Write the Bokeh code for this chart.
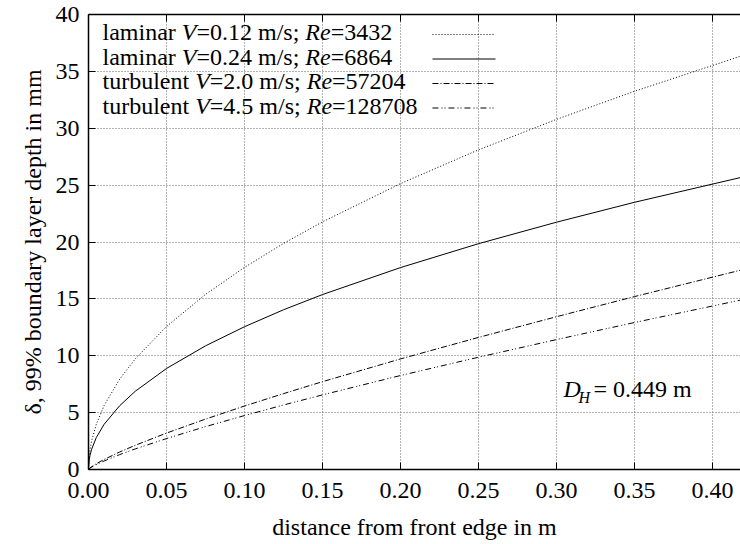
import numpy as np
from bokeh.plotting import figure
from bokeh.models import Range1d, LinearAxis, FixedTicker, PrintfTickFormatter
from bokeh.core.properties import value
from bokeh.embed import file_html
from bokeh.resources import INLINE

# ---------------- data ----------------
x_m = [0, 0.0005, 0.001, 0.002, 0.005, 0.01, 0.02, 0.03, 0.05, 0.075, 0.1,
       0.125, 0.15, 0.2, 0.25, 0.3, 0.35, 0.42]
laminar_012 = [0, 1.26, 1.78, 2.51, 3.97, 5.62, 7.95, 9.73, 12.57, 15.39, 17.77,
               19.87, 21.77, 25.13, 28.10, 30.78, 33.25, 36.42]
laminar_024 = [0, 0.89, 1.26, 1.78, 2.81, 3.97, 5.61, 6.88, 8.88, 10.87, 12.55,
               14.04, 15.38, 17.75, 19.85, 21.74, 23.49, 25.73]
turbulent_20 = [0, 0.08, 0.14, 0.24, 0.51, 0.88, 1.54, 2.13, 3.20, 4.43, 5.58,
                6.67, 7.72, 9.72, 11.61, 13.43, 15.20, 17.59]
turbulent_45 = [0, 0.07, 0.12, 0.21, 0.43, 0.75, 1.31, 1.81, 2.72, 3.77, 4.74,
                5.67, 6.56, 8.26, 9.87, 11.42, 12.92, 14.95]

series_names = [("laminar ", "0.12", "3432"),
                ("laminar ", "0.24", "6864"),
                ("turbulent ", "2.0", "57204"),
                ("turbulent ", "4.5", "128708")]
series_values = [laminar_012, laminar_024, turbulent_20, turbulent_45]
series_dash = ["1 2", "solid", "6 2 1 2", "6 3 1 2 1 3"]

x_ticks = [0.0, 0.05, 0.10, 0.15, 0.20, 0.25, 0.30, 0.35, 0.40]
y_ticks = [0, 5, 10, 15, 20, 25, 30, 35, 40]

x_label = "distance from front edge in m"
y_label = "δ, 99% boundary layer depth in mm"

# ---------------- layout ----------------
W, H = 740, 544
FL, FT, FR, FB = 88, 14, 0, 75
FW, FH = W - FL - FR, H - FT - FB
XMAX, YMAX = 0.418, 40.0
FONT = "Liberation Serif"
FS = 24


def px2x(px):
    return (px - FL) / FW * XMAX


def px2y(py):
    return (FT + FH - py) / FH * YMAX


# Times metrics (per 1000 em)
ROMAN = {" ": 250, ".": 250, "/": 278, ";": 278, "=": 564, "a": 444, "b": 500,
         "e": 444, "i": 278, "l": 278, "m": 778, "n": 500, "r": 333, "s": 389,
         "t": 278, "u": 500}
for d in "0123456789":
    ROMAN[d] = 500
ITALIC = {"V": 611, "R": 611, "e": 444}


def tw(s, table, size=FS):
    return sum(table[c] for c in s) * size / 1000.0


p = figure(width=W, height=H, output_backend="svg", toolbar_location=None,
           x_range=Range1d(0, XMAX), y_range=Range1d(0, YMAX),
           min_border_left=FL, min_border_right=FR, min_border_top=FT,
           min_border_bottom=FB, background_fill_color="white",
           border_fill_color="white", outline_line_color=None)

# axes
for ax in (p.xaxis[0], p.yaxis[0]):
    ax.major_label_text_font = FONT
    ax.major_label_text_font_size = f"{FS}px"
    ax.major_label_text_color = "black"
    ax.axis_label_text_font = FONT
    ax.axis_label_text_font_size = f"{FS}px"
    ax.axis_label_text_font_style = "normal"
    ax.axis_label_text_color = "black"
    ax.major_tick_in = 7
    ax.major_tick_out = 0
    ax.minor_tick_line_color = None
    ax.axis_line_width = 1.5
    ax.major_tick_line_width = 1

p.xaxis[0].ticker = FixedTicker(ticks=x_ticks)
p.xaxis[0].formatter = PrintfTickFormatter(format="%.2f")
p.xaxis[0].axis_label = x_label
p.xaxis[0].major_label_standoff = 13
p.xaxis[0].axis_label_standoff = 13

p.yaxis[0].ticker = FixedTicker(ticks=y_ticks)
p.yaxis[0].axis_label = y_label
p.yaxis[0].major_label_standoff = 9
p.yaxis[0].axis_label_standoff = 7

top = LinearAxis(ticker=FixedTicker(ticks=x_ticks),
                 major_label_overrides={t: "" for t in x_ticks},
                 major_tick_in=7, major_tick_out=0, minor_tick_line_color=None,
                 axis_line_width=1.5, major_label_standoff=0)
p.add_layout(top, "above")

# grid
for g in (p.xgrid[0], p.ygrid[0]):
    g.grid_line_color = "#666666"
    g.grid_line_dash = "1 2"
    g.grid_line_width = 1
p.xgrid[0].ticker = FixedTicker(ticks=x_ticks)
p.ygrid[0].ticker = FixedTicker(ticks=y_ticks)

# curves
for vals, dash in zip(series_values, series_dash):
    p.line(x_m, vals, line_color="black", line_width=1, line_dash=dash)

# legend (label left, sample right, like gnuplot)
line_y = [34, 58.5, 83, 107.5]
text_mid = [31.5, 56, 80.5, 105]
lx0 = 102
sample_x = [px2x(432), px2x(495)]
rx, ry, rt, ix, iy, it = [], [], [], [], [], []
for (word, v, re), ly, ty, dash in zip(series_names, line_y, text_mid, series_dash):
    base = px2y(ty)
    x = lx0
    segs = [(word, False), ("V", True), ("=" + v + " m/s; ", False), ("Re", True), ("=" + re, False)]
    for s, ital in segs:
        if ital:
            ix.append(px2x(x)); iy.append(base); it.append(s)
            x += tw(s, ITALIC)
        else:
            rx.append(px2x(x)); ry.append(base); rt.append(s)
            x += tw(s, ROMAN)
    p.line(sample_x, [px2y(ly)] * 2, line_color="black", line_width=1, line_dash=dash)

p.text(rx, ry, text=rt, text_font=value(FONT), text_font_size=f"{FS}px",
       text_baseline="middle", text_align="left", text_color="black")
p.text(ix, iy, text=it, text_font=value(FONT), text_font_size=f"{FS}px",
       text_font_style="italic", text_baseline="middle", text_align="left",
       text_color="black")

# D_H annotation
p.text([px2x(563)], [px2y(388)], text=["D"], text_font=value(FONT),
       text_font_size=f"{FS}px", text_font_style="italic", text_baseline="middle",
       text_color="black")
p.text([px2x(578)], [px2y(397)], text=["H"], text_font=value(FONT),
       text_font_size="16px", text_font_style="italic", text_baseline="middle",
       text_color="black")
p.text([px2x(593)], [px2y(388)], text=["= 0.449 m"], text_font=value(FONT),
       text_font_size=f"{FS}px", text_baseline="middle", text_color="black")

open("out.html", "w").write(file_html(p, INLINE))
